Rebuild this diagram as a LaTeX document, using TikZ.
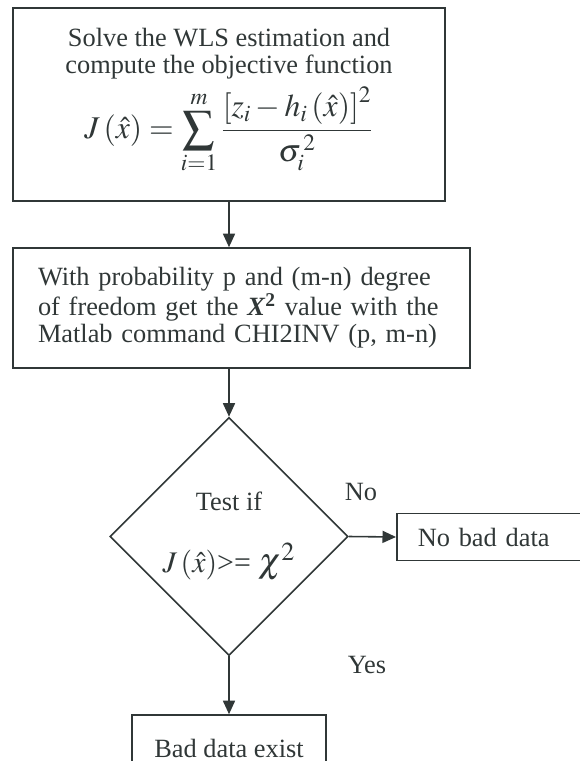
\documentclass[tikz,border=0pt]{standalone}
\usepackage{amsmath}
\usepackage{mathptmx}
\usepackage{fontspec}
\setmainfont{Liberation Serif}
\usetikzlibrary{arrows.meta,shapes.geometric}
\definecolor{ink}{RGB}{48,55,55}

\begin{document}
\begin{tikzpicture}[
  box/.style={draw=ink,line width=0.9pt,text=ink,align=center,
     font=\fontsize{15}{15.3}\selectfont,inner sep=0pt},
  leftbox/.style={box,align=left,inner xsep=0.5cm,text width=8.14cm,minimum height=2.4cm},
  dec/.style={box,diamond,aspect=1,minimum width=4.76cm,minimum height=4.76cm},
  lbl/.style={text=ink,font=\fontsize{15}{15.3}\selectfont},
  arr/.style={-{Triangle[length=0.27cm,width=0.24cm]},line width=0.9pt,draw=ink}]
\useasboundingbox (0,0) rectangle (11.58,-15.22);
\node[box,minimum width=8.64cm,minimum height=3.86cm] (wls) at (4.58,-2.09) {Solve the WLS estimation and\\compute the objective function\\[0.12cm] {\fontsize{18}{20}\selectfont$\displaystyle J\left(\hat{x}\right)=\sum_{i=1}^{m}\frac{\left[z_i-h_i\left(\hat{x}\right)\right]^2}{\sigma_i^{\,2}}$}\\[0.1cm]};
\node[leftbox] (chi) at (4.83,-6.16) {With probability p and (m-n) degree\\of freedom get the \textbf{\textit{X}\textsuperscript{2}} value with the\\Matlab command CHI2INV (p, m-n)};
\node[dec] (test) at (4.58,-10.73) {Test if\\[0.6cm] {\fontsize{17}{18}\selectfont$J\left(\hat{x}\right)$>= {\fontsize{20}{22}\selectfont$\chi^2$}}};
\node[box,anchor=west,align=left,inner xsep=0.42cm,text width=3.2cm,minimum height=0.94cm] (nobad) at (7.92,-10.74) {No bad data};
\node[box,minimum width=3.88cm,minimum height=1.32cm] (bad) at (4.58,-14.96) {Bad data exist};
\node[lbl] (nolbl) at (7.22,-9.84) {No};
\node[lbl] (yeslbl) at (7.34,-13.3) {Yes};
\draw[arr] (wls.south) -- (wls.south |- chi.north);
\draw[arr] (test.north |- chi.south) -- (test.north);
\draw[arr] (test.east) -- (nobad.west);
\draw[arr] (test.south) -- (bad.north);
\end{tikzpicture}
\end{document}
